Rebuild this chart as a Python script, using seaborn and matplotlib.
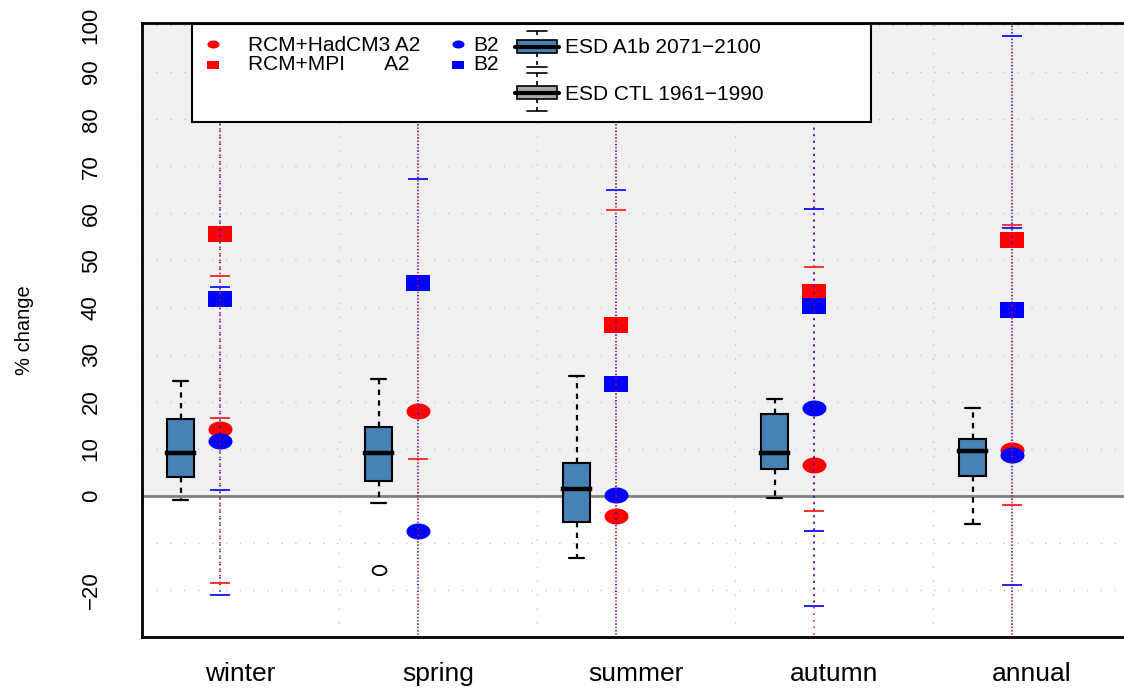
import numpy as np
import matplotlib
matplotlib.use("Agg")
import matplotlib.pyplot as plt
import seaborn as sns
from matplotlib.path import Path
from matplotlib.patches import Rectangle

# ---------------- data ----------------
seasons = ["winter", "spring", "summer", "autumn", "annual"]

# ESD A1b 2071-2100 box statistics (% change)
esd_whislo = [-0.9, -1.4, -13.2, -0.5, -6.0]
esd_q1 = [4.0, 3.3, -5.4, 5.7, 4.3]
esd_med = [9.1, 9.2, 1.6, 9.1, 9.6]
esd_q3 = [16.4, 14.7, 7.1, 17.4, 12.1]
esd_whishi = [24.5, 24.9, 25.4, 20.6, 18.8]
esd_fliers = [[], [-15.6], [], [], []]

# RCM results
had_a2 = [14.3, 18.0, -4.2, 6.6, 9.8]
had_b2 = [11.7, -7.3, 0.2, 18.8, 8.7]
mpi_a2 = [55.7, np.nan, 36.3, 43.3, 54.4]
mpi_b2 = [41.9, 45.2, 23.7, 40.4, 39.4]

# ranges (dotted lines) and range end marks
red_range_lo = [-18.5, -35.0, -35.0, -35.0, -35.0]
red_range_hi = [110.0, 110.0, 110.0, 110.0, 110.0]
blue_range_lo = [-21.0, -35.0, -35.0, -23.4, -35.0]
blue_range_hi = [110.0, 110.0, 110.0, 110.0, 110.0]
red_marks = [[46.8, 16.6, -18.5], [7.9], [60.7], [48.7, -3.1], [57.5, -1.8]]
blue_marks = [[44.3, 1.3, -21.0], [67.3], [65.0], [61.0, -7.5, -23.4], [97.6, 56.9, -18.8]]

ytick_vals = [-20, 0, 10, 20, 30, 40, 50, 60, 70, 80, 90, 100]

# ---------------- style ----------------
sns.set_theme(style="white")
plt.rcParams['font.family'] = ['Liberation Sans', 'DejaVu Sans']

W, H = 1124, 690
fig = plt.figure(figsize=(W / 100, H / 100), dpi=100)
ax = fig.add_axes([142 / W, 1 - 637 / H, (W - 142) / W, (637 - 23) / H])
ax.set_xlim(-0.495, 4.465)
ax.set_ylim(-29.9, 100.4)

ax.set_facecolor("white")
ax.axhspan(0, 100.4, color="#f0f0f0", lw=0, zorder=0)

# grid
ax.set_yticks(ytick_vals)
ax.set_yticks([-10], minor=True)
ax.set_xticks(range(len(seasons)))
ax.set_xticklabels(seasons)
ax.set_xticks([0.5, 1.5, 2.5, 3.5], minor=True)
grid_kw = dict(color="#c4c4c4", linestyle=(0, (1, 9)), linewidth=1)
ax.yaxis.grid(True, which="both", **grid_kw)
ax.xaxis.grid(True, which="minor", **grid_kw)
ax.xaxis.grid(False, which="major")
ax.set_axisbelow(True)

ax.axhline(0, color="#808080", lw=2, zorder=1.5)

# markers
theta = np.linspace(0, 2 * np.pi, 65)
ellipse = Path(np.column_stack([1.5 * np.cos(theta), np.sin(theta)]), closed=True)
rect = Path([(-1.45, -1), (1.45, -1), (1.45, 1), (-1.45, 1), (-1.45, -1)], closed=True)

xpos = np.arange(len(seasons))
box_pos = xpos - 0.30
pt_pos = xpos - 0.10

# boxes
stats = []
for i in range(len(seasons)):
    stats.append(dict(med=esd_med[i], q1=esd_q1[i], q3=esd_q3[i],
                      whislo=esd_whislo[i], whishi=esd_whishi[i],
                      fliers=esd_fliers[i]))
ax.bxp(stats, positions=box_pos, widths=0.136, capwidths=0.077,
       patch_artist=True, showfliers=True, manage_ticks=False,
       boxprops=dict(facecolor="#4682b4", edgecolor="black", linewidth=1.5),
       medianprops=dict(color="black", linewidth=3.2, solid_capstyle="projecting"),
       whiskerprops=dict(color="black", linewidth=1.6, linestyle=(0, (2.4, 2.4))),
       capprops=dict(color="black", linewidth=1.6),
       flierprops=dict(marker=ellipse, markersize=10, markerfacecolor="none",
                       markeredgecolor="black", markeredgewidth=1.3),
       zorder=3)

# points
sns.scatterplot(x=pt_pos, y=had_a2, marker=ellipse, s=298, color="red",
                linewidth=0, ax=ax, zorder=4)
sns.scatterplot(x=pt_pos, y=mpi_a2, marker=rect, s=275, color="red",
                linewidth=0, ax=ax, zorder=4)
sns.scatterplot(x=pt_pos, y=had_b2, marker=ellipse, s=298, color="blue",
                linewidth=0, ax=ax, zorder=4)
sns.scatterplot(x=pt_pos, y=mpi_b2, marker=rect, s=275, color="blue",
                linewidth=0, ax=ax, zorder=4)

# dotted ranges and marks
ax.vlines(pt_pos, red_range_lo, red_range_hi, colors="red", lw=1.1,
          linestyles=[(0, (1, 3.3))], zorder=5)
ax.vlines(pt_pos, blue_range_lo, blue_range_hi, colors="blue", lw=1.1,
          linestyles=[(2.15, (1, 3.3))], zorder=5)
rx = np.concatenate([[pt_pos[i]] * len(m) for i, m in enumerate(red_marks)])
ry = np.concatenate([m for m in red_marks])
bx = np.concatenate([[pt_pos[i]] * len(m) for i, m in enumerate(blue_marks)])
by = np.concatenate([m for m in blue_marks])
ax.plot(rx, ry, linestyle="none", marker="_", markersize=15, mew=1.4,
        color="#ff3030", zorder=5)
ax.plot(bx, by, linestyle="none", marker="_", markersize=15, mew=1.4,
        color="#2020ff", zorder=5)

# axes decoration
for s in ["left", "bottom", "top"]:
    ax.spines[s].set_visible(True)
    ax.spines[s].set_color("black")
    ax.spines[s].set_linewidth(2)
ax.spines["right"].set_visible(False)
ax.tick_params(axis="both", which="both", length=0)
ax.tick_params(axis="x", pad=18, labelsize=19, labelcolor="black")
ax.tick_params(axis="y", pad=29, labelsize=16, labelcolor="black")
for lab in ax.get_yticklabels():
    lab.set_rotation(90)
    lab.set_va("center")
    lab.set_ha("right")
ax.set_ylabel("% change", fontsize=14.5, color="black")
ax.yaxis.set_label_coords(-0.11, 0.5)

# ---------------- legend (drawn in pixel space) ----------------
lax = fig.add_axes([0, 0, 1, 1], zorder=5)
lax.set_xlim(0, W)
lax.set_ylim(H, 0)
lax.axis("off")
lax.add_patch(Rectangle((192, 24), 679, 98, facecolor="white",
                        edgecolor="black", lw=1.5, zorder=1))
lax.scatter([213], [44], marker=ellipse, s=75, color="red", lw=0, zorder=2)
lax.scatter([213], [65], marker=rect, s=63, color="red", lw=0, zorder=2)
lax.scatter([458], [44], marker=ellipse, s=75, color="blue", lw=0, zorder=2)
lax.scatter([458], [65], marker=rect, s=63, color="blue", lw=0, zorder=2)
tkw = dict(fontsize=15, color="black", va="baseline", ha="left", zorder=3)
lax.text(248, 51, "RCM+HadCM3 A2", **tkw)
lax.text(248, 70.5, "RCM+MPI       A2", **tkw)
lax.text(473, 51, "B2", **tkw)
lax.text(473, 70.5, "B2", **tkw)
lax.text(565, 53, "ESD A1b 2071\u22122100", **tkw)
lax.text(565, 100.5, "ESD CTL 1961\u22121990", **tkw)


def legend_box(y_top_cap, y_box_top, y_box_bot, y_med, y_bot_cap, fc):
    cx = 537
    lax.add_patch(Rectangle((517, y_box_top), 40, y_box_bot - y_box_top,
                            facecolor=fc, edgecolor="black", lw=1.2, zorder=2))
    lax.plot([515, 559], [y_med, y_med], color="black", lw=3, zorder=3)
    lax.plot([cx, cx], [y_top_cap, y_box_top], color="black", lw=1.2,
             linestyle=(0, (2.4, 2.4)), zorder=2)
    lax.plot([cx, cx], [y_box_bot, y_bot_cap], color="black", lw=1.2,
             linestyle=(0, (2.4, 2.4)), zorder=2)
    lax.plot([527, 547], [y_top_cap, y_top_cap], color="black", lw=1.2, zorder=2)
    lax.plot([527, 547], [y_bot_cap, y_bot_cap], color="black", lw=1.2, zorder=2)


legend_box(31, 40, 53, 47, 67, "#4682b4")
legend_box(73, 86, 99, 93, 111, "#aaaaaa")

fig.savefig("out.png", dpi=100)
